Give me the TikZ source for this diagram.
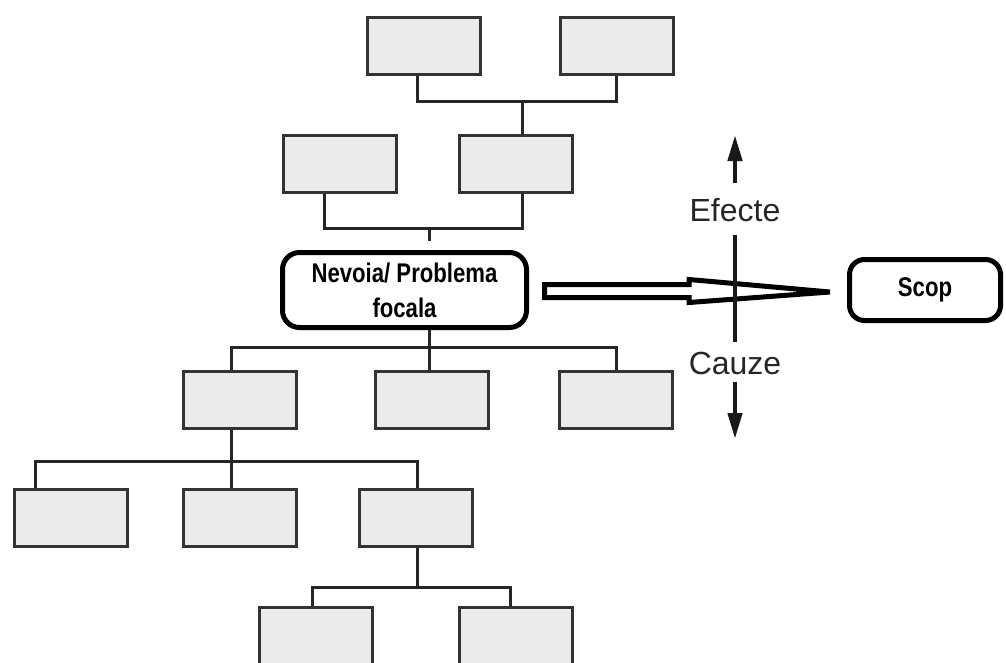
\documentclass[tikz,border=0pt]{standalone}
\usepackage{fontspec}
\setmainfont{Liberation Sans}
\newfontfamily\narrowfont{Liberation Sans}[FakeStretch=0.82]
\usetikzlibrary{arrows.meta}
\begin{document}
\begin{tikzpicture}[x=1pt,y=-1pt,
  cell/.style={draw=black!80, line width=3pt, fill=black!8,
    minimum width=113pt, minimum height=57pt, inner sep=0pt},
  link/.style={draw=black!85, line width=3pt},
  focus/.style={draw=black, line width=5pt, rounded corners=17pt,
    fill=white, inner sep=0pt, align=center,
    font=\narrowfont\bfseries\fontsize{27}{35}\selectfont},
  axislabel/.style={font=\fontsize{32}{36}\selectfont, text=black!85, inner sep=0pt},
  axisline/.style={draw=black!90, line width=4.5pt},
  axisarrow/.style={axisline, -{Triangle[length=26pt,width=14pt]}}]
\path[use as bounding box] (0,0) rectangle (1006,662);
\clip (0,0) rectangle (1006,662);

% effect boxes above the focal problem
\node[cell] (t1) at (424,46) {};
\node[cell] (t2) at (617,46) {};
\node[cell] (s1) at (340,163.5) {};
\node[cell] (s2) at (516,163.5) {};

% focal problem and goal
\node[focus, minimum width=244pt, minimum height=75pt] (focal) at (404.5,290)
  {Nevoia/ Problema\\focala};
\node[focus, minimum width=151pt, minimum height=61pt, rounded corners=15pt,
  font=\narrowfont\bfseries\fontsize{27}{30}\selectfont] (scop) at (925,290) {Scop};

% cause boxes below the focal problem
\node[cell] (c1) at (239.5,400) {};
\node[cell] (c2) at (431.5,400) {};
\node[cell] (c3) at (616,400) {};
\node[cell] (d1) at (71,517.5) {};
\node[cell] (d2) at (239.5,517.5) {};
\node[cell] (d3) at (415.5,517.5) {};
\node[cell] (e1) at (315.5,636) {};
\node[cell] (e2) at (516,636) {};

% junctions of the tree
\coordinate (j1) at (522,101);
\coordinate (j2) at (429,228);
\coordinate (j2end) at (429,241);
\coordinate (j3) at (429,347);
\coordinate (j3l) at (231,347);
\coordinate (j4) at (231,461);
\coordinate (j5) at (417,587);

% upper tree
\draw[link] ([xshift=-7pt]t1.south) |- (j1) -| ([xshift=-1pt]t2.south);
\draw[link] (j1) -- (j1 |- s2.north);
\draw[link] ([xshift=-16pt]s1.south) |- (j2 -| j1) -- (j1 |- s2.south);
\draw[link] (j2) -- (j2end);

% lower tree
\draw[link] (focal.south -| j3) -- (j3);
\draw[link] (j3l |- c1.north) |- (j3 -| c3.north) -- (c3.north);
\draw[link] (j3) -- (j3 |- c2.north);
\draw[link] (j4 |- c1.south) -- (j4 |- d2.north);
\draw[link] ([xshift=-36pt]d1.north) |- (j4) -| ([xshift=1.5pt]d3.north);
\draw[link] (j5 |- d3.south) -- (j5);
\draw[link] ([xshift=-3.5pt]e1.north) |- (j5) -| ([xshift=-6pt]e2.north);

% hollow arrow from the focal problem to the goal
\draw[line width=5pt, fill=white, line join=miter]
  (544.5,284.5) -- (689,284.5) -- (689,279.5) -- (830,292)
  -- (689,302.5) -- (689,297.5) -- (544.5,297.5) -- cycle;

% effects / causes axis
\node[axislabel] (efecte) at (735,210) {Efecte};
\node[axislabel] (cauze) at (735,363) {Cauze};
\coordinate (eftop) at (735,135);
\coordinate (efbase) at (735,183);
\coordinate (axtop) at (735,235);
\coordinate (axbot) at (735,342);
\coordinate (cabase) at (735,382);
\coordinate (cabot) at (735,439);
\draw[axisarrow] (efbase) -- (eftop);
\draw[axisline] (axtop) -- (axbot);
\draw[axisarrow] (cabase) -- (cabot);
\end{tikzpicture}
\end{document}
